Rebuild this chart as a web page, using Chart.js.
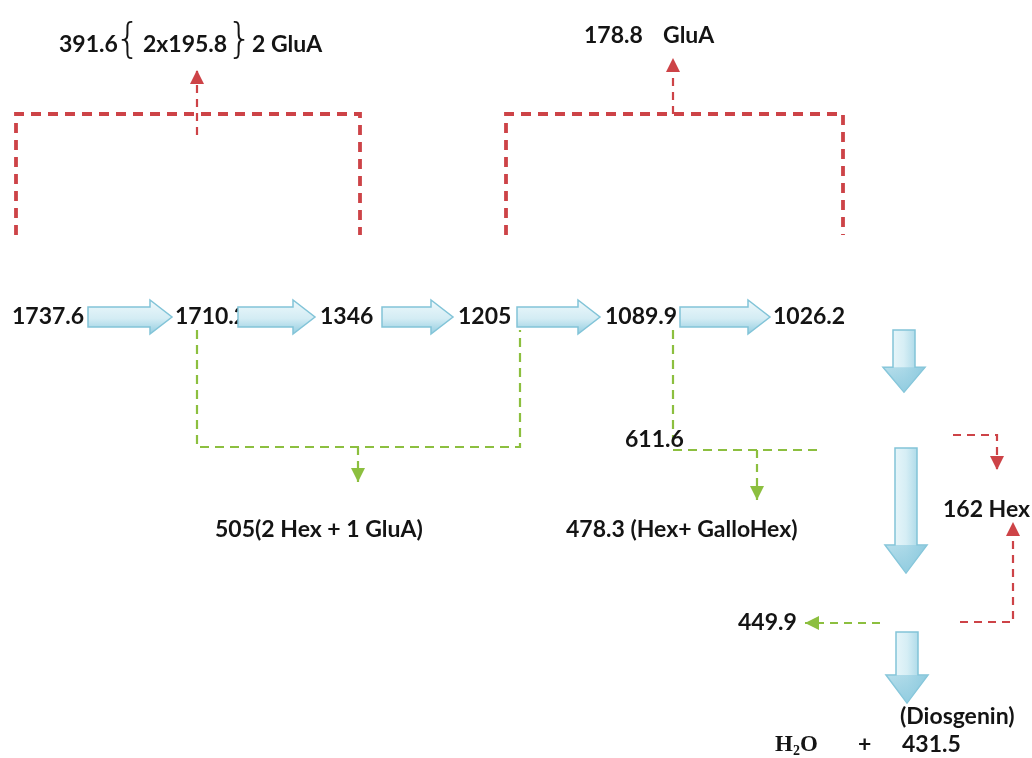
<!DOCTYPE html>
<html><head><meta charset="utf-8">
<script src="https://cdn.jsdelivr.net/npm/chart.js@4/dist/chart.umd.min.js"></script>
<style>html,body{margin:0;padding:0;background:#fff}#wrap{width:1032px;height:758px}</style>
</head><body><div id="wrap"><canvas id="c" width="1032" height="758"></canvas></div>
<script>
// ---- data: fragment ions along the main fragmentation path ----
const mainIons = ['1737.6','1710.2','1346','1205','1089.9','1026.2'];
const mainIonX = [12,175,320,458,605,773];
const mainRowY = 317;
// horizontal block arrows (start, end)
const hArrowStart = [88,238,382,517,680];
const hArrowEnd   = [172,315,453,600,770];
// vertical block arrows
const vArrowX      = [904,906,907];
const vArrowTop    = [330,448,632];
const vArrowBottom = [392,573,703];
// side labels (losses / products)
const sideLabels = ['391.6','2x195.8','2 GluA','178.8','GluA','611.6','505(2 Hex + 1 GluA)','478.3 (Hex+ GalloHex)','162 Hex','449.9','(Diosgenin)','+','431.5'];
const sideLabelX = [59,143,252,584,663,625,215,566,943,738,900,858,902];
const sideLabelY = [45,45,45,36,36,440,530,530,510,623,717,745,745];
const braceChars = ['{','}'];
const braceX = [115,227];
const braceY = [42,42];
const waterLabel = ['H','2','O'];
const waterX = 775, waterY = 745;
// dashed paths
const redBrackets = [
  [[16,235],[16,114],[360,114],[360,235]],
  [[506,235],[506,114],[843,114],[843,235]]
];
const redArrows = [
  [[197,135],[197,70]],
  [[673,114],[673,58]],
  [[953,435],[997,435],[997,470]],
  [[960,622],[1013,622],[1013,522]]
];
const greenLines = [
  [[197,330],[197,447],[520,447],[520,330]],
  [[673,330],[673,450],[818,450]]
];
const greenArrows = [
  [[358,447],[358,482]],
  [[757,450],[757,500]],
  [[880,623],[805,623]]
];

const RED = '#cd4347', GREEN = '#8cbf3f';
const datasets = [];
function addPaths(paths, color, width, dash, arrow){
  paths.forEach(p => datasets.push({
    data: p.map(q => ({x:q[0], y:q[1]})),
    showLine:true, pointRadius:0, borderColor:color, borderWidth:width,
    borderDash:dash, fill:false, tension:0, arrow:arrow, borderCapStyle:'butt'
  }));
}
addPaths(redBrackets, RED, 3.8, [10,7], false);
addPaths(redArrows, RED, 2.2, [8,6], true);
addPaths(greenLines, GREEN, 2.2, [9,6], false);
addPaths(greenArrows, GREEN, 2.2, [8,6], true);

const diagramPlugin = {
  id:'diagram',
  afterDatasetsDraw(chart){
    const ctx = chart.ctx, xs = chart.scales.x, ys = chart.scales.y;
    const X = v => xs.getPixelForValue(v), Y = v => ys.getPixelForValue(v);
    ctx.save();
    // arrowheads
    chart.data.datasets.forEach(ds => {
      if(!ds.arrow) return;
      const n = ds.data.length, a = ds.data[n-2], b = ds.data[n-1];
      const x1=X(a.x), y1=Y(a.y), x2=X(b.x), y2=Y(b.y);
      const ang = Math.atan2(y2-y1, x2-x1), L=14, W=7;
      ctx.fillStyle = ds.borderColor;
      ctx.beginPath();
      ctx.moveTo(x2,y2);
      ctx.lineTo(x2 - L*Math.cos(ang) + W*Math.sin(ang), y2 - L*Math.sin(ang) - W*Math.cos(ang));
      ctx.lineTo(x2 - L*Math.cos(ang) - W*Math.sin(ang), y2 - L*Math.sin(ang) + W*Math.cos(ang));
      ctx.closePath(); ctx.fill();
    });
    // text
    ctx.fillStyle = '#141414';
    ctx.textBaseline = 'middle'; ctx.textAlign = 'left';
    ctx.font = 'bold 23px Lato';
    mainIons.forEach((t,i)=>ctx.fillText(t, X(mainIonX[i]), Y(mainRowY)));
    sideLabels.forEach((t,i)=>ctx.fillText(t, X(sideLabelX[i]), Y(sideLabelY[i])));
    ctx.font = '300 40px "DejaVu Sans"';
    braceChars.forEach((t,i)=>ctx.fillText(t, X(braceX[i]), Y(braceY[i])));
    // water
    ctx.font = 'bold 23px "Liberation Serif"';
    let wx = X(waterX);
    ctx.fillText(waterLabel[0], wx, Y(waterY)); wx += ctx.measureText(waterLabel[0]).width;
    ctx.font = 'bold 14px "Liberation Serif"';
    ctx.fillText(waterLabel[1], wx, Y(waterY)+6); wx += ctx.measureText(waterLabel[1]).width;
    ctx.font = 'bold 23px "Liberation Serif"';
    ctx.fillText(waterLabel[2], wx, Y(waterY));
    // block arrows
    function blockH(x0,x1,yc){
      const sh=10, hh=17, hl=22;
      const g = ctx.createLinearGradient(0,yc-hh,0,yc+hh);
      g.addColorStop(0,'#eef8fb'); g.addColorStop(0.55,'#d3ecf4'); g.addColorStop(1,'#93cde0');
      ctx.fillStyle=g; ctx.strokeStyle='#82c4d8'; ctx.lineWidth=1.5;
      ctx.beginPath();
      ctx.moveTo(x0,yc-sh); ctx.lineTo(x1-hl,yc-sh); ctx.lineTo(x1-hl,yc-hh);
      ctx.lineTo(x1,yc); ctx.lineTo(x1-hl,yc+hh); ctx.lineTo(x1-hl,yc+sh);
      ctx.lineTo(x0,yc+sh); ctx.closePath(); ctx.fill(); ctx.stroke();
    }
    function blockV(xc,y0,y1){
      const sh=11, hh=21, hl=Math.min(28,(y1-y0)*0.4);
      const g = ctx.createLinearGradient(xc-hh,0,xc+hh,0);
      g.addColorStop(0,'#f4fbfd'); g.addColorStop(0.5,'#d6eef5'); g.addColorStop(1,'#8fcbdf');
      ctx.fillStyle=g; ctx.strokeStyle='#82c4d8'; ctx.lineWidth=1.5;
      ctx.beginPath();
      ctx.moveTo(xc-sh,y0); ctx.lineTo(xc+sh,y0); ctx.lineTo(xc+sh,y1-hl); ctx.lineTo(xc+hh,y1-hl);
      ctx.lineTo(xc,y1); ctx.lineTo(xc-hh,y1-hl); ctx.lineTo(xc-sh,y1-hl); ctx.closePath();
      ctx.fill(); ctx.stroke();
      const g2 = ctx.createLinearGradient(0,y1-hl,0,y1);
      g2.addColorStop(0,'rgba(143,203,223,0.6)'); g2.addColorStop(1,'rgba(143,203,223,0.95)');
      ctx.fillStyle=g2;
      ctx.beginPath(); ctx.moveTo(xc+hh,y1-hl); ctx.lineTo(xc,y1); ctx.lineTo(xc-hh,y1-hl); ctx.closePath(); ctx.fill();
    }
    hArrowStart.forEach((s,i)=>blockH(X(s),X(hArrowEnd[i]),Y(mainRowY)));
    vArrowX.forEach((x,i)=>blockV(X(x),Y(vArrowTop[i]),Y(vArrowBottom[i])));
    ctx.restore();
  }
};

new Chart(document.getElementById('c'), {
  type:'scatter',
  data:{datasets},
  options:{
    responsive:false, animation:false, events:[],
    layout:{padding:0},
    plugins:{legend:{display:false}, tooltip:{enabled:false}},
    scales:{
      x:{type:'linear', min:0, max:1032, display:false},
      y:{type:'linear', min:0, max:758, reverse:true, display:false}
    }
  },
  plugins:[diagramPlugin]
});
</script></body></html>
